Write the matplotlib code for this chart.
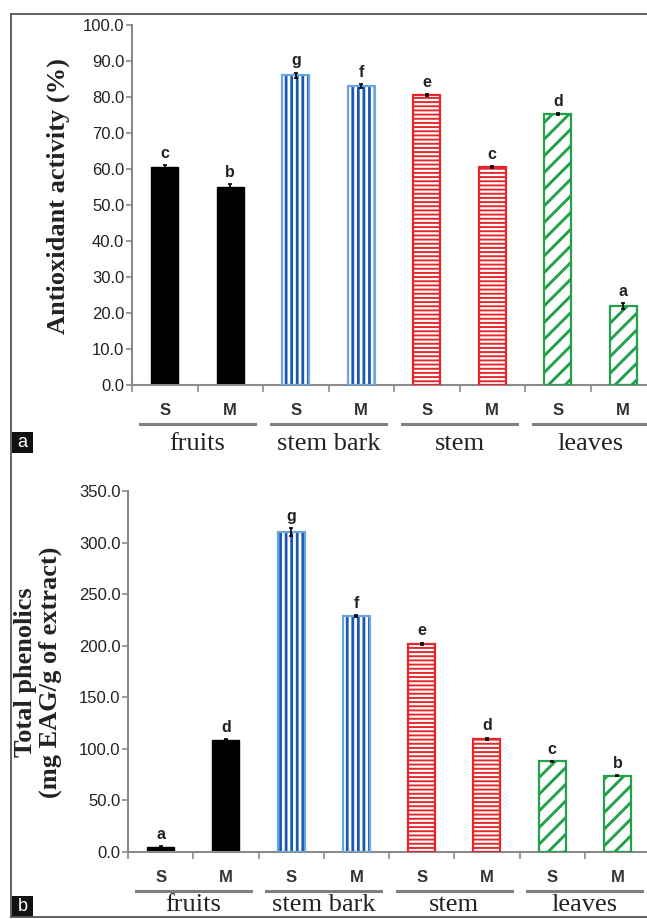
import matplotlib
matplotlib.use("Agg")
import matplotlib.pyplot as plt
from matplotlib.lines import Line2D
from matplotlib.patches import Rectangle

# ---- data ----
groups = ["fruits", "stem bark", "stem", "leaves"]
solvents = ["S", "M", "S", "M", "S", "M", "S", "M"]

antiox_values = [60.5, 55.0, 86.0, 83.0, 80.5, 60.5, 75.3, 22.0]
antiox_errors = [0.5, 0.7, 0.8, 0.5, 0.3, 0.3, 0.3, 0.8]
antiox_letters = ["c", "b", "g", "f", "e", "c", "d", "a"]
antiox_yticks = [0, 10, 20, 30, 40, 50, 60, 70, 80, 90, 100]

phenol_values = [5.0, 109.0, 310.0, 229.0, 202.0, 110.0, 88.0, 74.0]
phenol_errors = [1.0, 0.5, 4.0, 1.0, 1.0, 1.0, 0.5, 0.5]
phenol_letters = ["a", "d", "g", "f", "e", "d", "c", "b"]
phenol_yticks = [0, 50, 100, 150, 200, 250, 300, 350]

W, H = 647, 919
fig = plt.figure(figsize=(W / 100, H / 100), dpi=100)

SANS = ["Liberation Sans Narrow", "Liberation Sans", "DejaVu Sans"]
SERIF = ["Liberation Serif", "DejaVu Serif"]
AXC = "#8a8a8a"

# style per group: (hatch, hatch colour, edge colour, hatch lw)
styles = [
    (None, "black", "black", 1.0),
    ("|||", "#1a58b8", "#6aa6e0", 2.0),
    ("----", "#e8262a", "#e8262a", 1.4),
    ("//", "#22a04a", "#22a04a", 2.1),
]


def fx(px):
    return px / W


def fy(py):
    return 1 - py / H


def panel(rect, values, errors, letters, yticks, ylim, ylabel, ylab_x, ylab_y,
          letter_off, group_y):
    ax = fig.add_axes(rect)
    ax.set_xlim(0, 8)
    ax.set_ylim(*ylim)
    x = [i + 0.5 for i in range(len(values))]
    for i, (xi, v, e) in enumerate(zip(x, values, errors)):
        hatch, hc, ec, hlw = styles[i // 2]
        plt.rcParams["hatch.linewidth"] = hlw
        if hatch is None:
            ax.bar(xi, v, width=0.41, color="black", edgecolor="black",
                   linewidth=1.0, zorder=2)
        else:
            ax.bar(xi, v, width=0.41, facecolor="white", edgecolor=hc,
                   hatch=hatch, linewidth=0, zorder=2)
            ax.bar(xi, v, width=0.41, facecolor="none", edgecolor=ec,
                   linewidth=1.6, zorder=3)
        ax.errorbar(xi, v, yerr=e, fmt="none", ecolor="black", elinewidth=1.2,
                    capsize=1.5, capthick=1.2, zorder=4)
        ax.annotate(letters[i], (xi, v + e), xytext=(0, letter_off),
                    textcoords="offset points", ha="center", va="bottom",
                    fontsize=11.5, fontweight="bold", family=SANS,
                    color="#222222")
    for s in ["top", "right"]:
        ax.spines[s].set_visible(False)
    for s in ["left", "bottom"]:
        ax.spines[s].set_color(AXC)
        ax.spines[s].set_linewidth(1.5)
    ax.set_yticks(yticks)
    ax.set_yticklabels([f"{t:.1f}" for t in yticks], family=SANS, fontsize=12,
                       color="#222222")
    ax.tick_params(axis="y", length=4, width=1.2, color=AXC, pad=1.5)
    ax.set_xticks(range(9))
    ax.set_xticklabels([])
    ax.tick_params(axis="x", length=5, width=1.2, color=AXC)
    tr = ax.get_xaxis_transform()
    for xi, s in zip(x, solvents):
        ax.text(xi, -0.072, s, transform=tr, ha="center", va="center",
                fontsize=12, fontweight="bold", family=SANS, color="#333333")
    for g, name in enumerate(groups):
        ax.add_line(Line2D([2 * g + 0.12, 2 * g + 1.88], [-0.108, -0.108],
                           transform=tr, color="#7f7f7f", lw=2.2,
                           clip_on=False))
        ax.text(2 * g + 1.0, group_y, name, transform=tr, ha="center",
                va="center", fontsize=19, family=SERIF, color="#222222")
    fig.text(ylab_x, ylab_y, ylabel, rotation=90, ha="center", va="center",
             fontsize=19, fontweight="bold", family=SERIF, color="#222222",
             linespacing=1.05, multialignment="center")
    return ax


panel([fx(132), fy(385), fx(656) - fx(132), fy(25) - fy(385)],
      antiox_values, antiox_errors, antiox_letters, antiox_yticks, (0, 100),
      "Antioxidant activity (%)", fx(58), fy(196), 3, -0.165)

panel([fx(128), fy(852), fx(650) - fx(128), fy(491) - fy(852)],
      phenol_values, phenol_errors, phenol_letters, phenol_yticks, (0, 350),
      "Total phenolics\n(mg EAG/g of extract)", fx(38), fy(672), 3, -0.148)

# outer frame
fc = "#555555"
fig.add_artist(Line2D([fx(11), fx(11)], [fy(14), fy(917)], color=fc, lw=1.3))
fig.add_artist(Line2D([fx(11), 1.0], [fy(14), fy(14)], color=fc, lw=1.3))
fig.add_artist(Line2D([fx(11), 1.0], [fy(917), fy(917)], color=fc, lw=1.3))

# panel tags
for tag, top in [("a", 432), ("b", 896)]:
    fig.add_artist(Rectangle((fx(12), fy(top + 21)), fx(33) - fx(12),
                             fy(top) - fy(top + 21), facecolor="#111111",
                             edgecolor="none"))
    fig.text(fx(22.5), fy(top + 10.5), tag, color="white", fontsize=13,
             ha="center", va="center", family=["Liberation Sans", "DejaVu Sans"])

fig.savefig("out.png", dpi=100)
